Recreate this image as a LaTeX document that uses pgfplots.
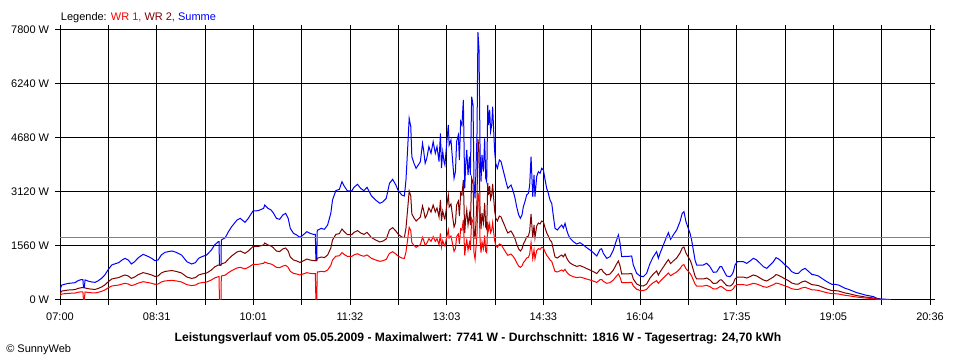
\documentclass[border=0pt]{standalone}
\usepackage{pgfplots}
\usepackage{pgfplotstable}
\pgfplotsset{compat=1.18}
\usepackage{fontspec}
\setmainfont{Liberation Sans}
\definecolor{wrred}{HTML}{FF0000}
\definecolor{wrdark}{HTML}{800000}
\definecolor{wrblue}{HTML}{0000FF}
\definecolor{avggray}{HTML}{808080}

% t = minutes after 07:00, sum = Summe, wra = WR 1, wrb = WR 2
\pgfplotstableread{
t sum wra wrb
0 300 120 180
1.6 430 172 258
5 460 184 276
8 480 192 288
14 500 200 300
17 560 224 336
20 590 236 354
21.5 590 236 354
22 354 0 354
22.8 354 0 354
23.5 580 232 348
27 540 216 324
30 520 208 312
33 510 204 306
36 560 224 336
39 626 250 376
42 722 289 433
45 867 347 520
48.5 1011 404 607
52 1050 420 630
55 1079 432 647
58 1150 460 690
61 1204 482 722
64 1156 462 694
67 1040 416 624
70 1107 443 664
73.5 1223 489 734
78 1319 528 791
83 1252 501 751
86 1204 482 722
89 1136 454 682
92 1156 462 694
95 1300 520 780
98.5 1377 551 826
102 1400 560 840
105 1416 566 850
109 1377 551 826
114 1300 520 780
119 1107 443 664
123.5 1040 416 624
127 1079 432 647
130 1204 482 722
133 1252 501 751
137.6 1300 520 780
142 1445 578 867
145 1589 636 953
148.5 1685 674 1011
149.2 1685 674 1011
149.5 1011 0 1011
151 1011 0 1011
151.3 1733 693 1040
155 1800 720 1080
158 1974 790 1184
161 2118 847 1271
166 2311 924 1387
169 2359 944 1415
173.5 2244 898 1346
176.6 2359 944 1415
181 2571 1028 1543
186 2581 1032 1549
191 2648 1059 1589
192 2745 1098 1647
195 2648 1059 1589
198 2600 1040 1560
200 2520 1008 1512
203 2359 944 1415
206 2331 932 1399
209 2456 982 1474
211.6 2504 1002 1502
214 2359 944 1415
216 2070 828 1242
219 1926 770 1156
222 1878 751 1127
225 1810 724 1086
228 1878 751 1127
231.5 1974 790 1184
234.5 1926 770 1156
237.5 1897 759 1138
239.5 1897 759 1138
240 1138 0 1138
240.8 1138 0 1138
241.3 2022 809 1213
242 2022 809 1213
245 2070 828 1242
248 2041 816 1225
251 2167 867 1300
254 2504 1002 1502
255.6 2889 1156 1733
258.7 3159 1264 1895
262 3197 1279 1918
264.5 3419 1368 2051
266.5 3293 1317 1976
269.6 3149 1260 1889
273.6 3149 1260 1889
275.7 3255 1302 1953
279 3342 1337 2005
282 3226 1290 1936
285 3159 1264 1895
288 3255 1302 1953
292 3014 1206 1808
296 2889 1156 1733
300 2793 1117 1676
303 2841 1136 1705
306 2937 1175 1762
309 3370 1348 2022
312 3486 1394 2092
315 3322 1329 1993
317 3178 1271 1907
320.5 3033 1213 1820
323 3005 1202 1803
324.5 3467 1387 2080
326 4334 1734 2600
327.5 5248 2099 3149
329 5007 2003 3004
330 4141 1656 2485
332 3948 1579 2369
334 3804 1522 2282
336 3900 1560 2340
338 3996 1598 2398
340 4526 1810 2716
341 4334 1734 2600
342.5 3948 1579 2369
344 4093 1637 2456
346 4430 1772 2658
348 4237 1695 2542
350 4574 1830 2744
352 4237 1695 2542
353.6 4430 1772 2658
355.5 3996 1598 2398
356.8 4815 1926 2889
357.8 3813 1525 2288
359 4285 1714 2571
360.2 3996 1598 2398
361 3900 1560 2340
362.7 4527 1811 2716
364.2 5056 2022 3034
365 4478 1791 2687
366.7 4622 1849 2773
368.3 3996 1598 2398
369.6 3515 1406 2109
370.9 3707 1483 2224
372 4575 1830 2745
373.6 4767 1907 2860
374.6 4044 1618 2426
375.8 5152 2061 3091
377 5056 2022 3034
378.3 5778 2311 3467
379.6 3227 1291 1936
380.5 3900 1560 2340
381.5 4334 1734 2600
382.7 3611 1444 2167
384 4141 1656 2485
384.9 3611 1444 2167
386.1 5874 2350 3524
387.4 5633 2253 3380
388.3 3419 1368 2051
389.3 2938 1175 1763
390.2 3804 1522 2282
391.1 4767 1907 2860
392 7741 3096 4645
393 7223 2889 4334
394 4285 1714 2571
394.9 3419 1368 2051
395.8 4189 1676 2513
397.1 3707 1483 2224
398.3 4671 1868 2803
399.3 3515 1406 2109
400.2 3419 1368 2051
401.2 5633 2253 3380
402 5056 2022 3034
403 5490 2196 3294
403.9 4863 1945 2918
404.9 5056 2022 3034
405.8 5585 2234 3351
406.8 4863 1945 2918
407.7 4285 1714 2571
408.7 3948 1579 2369
410.2 3804 1522 2282
412.1 4044 1618 2426
413.7 3996 1598 2398
415.2 3804 1522 2282
416.8 3611 1444 2167
418.3 3419 1368 2051
420 3227 1291 1936
421.5 3275 1310 1965
423 3322 1329 1993
425.2 3130 1252 1878
426.8 2938 1175 1763
428.3 2696 1078 1618
430.2 2456 982 1474
431.8 2359 944 1415
433.3 2456 982 1474
434.6 2696 1078 1618
436.1 2841 1136 1705
437.7 3033 1213 1820
439.3 3080 1232 1848
440.5 3300 1320 1980
441.8 4141 1656 2485
443.4 2985 1194 1791
444.6 3611 1444 2167
445.5 2985 1194 1791
447.1 3563 1425 2138
448.7 3708 1483 2225
450.3 3660 1464 2196
451.8 3804 1522 2282
453.4 3756 1502 2254
455 3467 1387 2080
456.5 3226 1290 1936
458 3082 1233 1849
459.6 2889 1156 1733
461.2 2793 1117 1676
462.8 2407 963 1444
464.3 2070 828 1242
466.5 2022 809 1213
469 2118 847 1271
470.6 2167 867 1300
472.1 2080 832 1248
473.7 2215 886 1329
475.2 2022 809 1213
476.8 1878 751 1127
478.4 1782 713 1069
481.5 1685 674 1011
484.6 1618 647 971
487.7 1656 662 994
490.9 1589 636 953
494 1512 605 907
497.1 1445 578 867
500.2 1368 547 821
503.4 1271 508 763
506.5 1464 586 878
508 1480 592 888
509.6 1348 539 809
512.8 1204 482 722
515.9 1252 501 751
519 1445 578 867
521.5 1685 674 1011
523.7 1878 751 1127
525.3 1637 655 982
526.8 1252 501 751
529.9 1260 504 756
533 1260 504 756
536.2 1271 508 763
537.7 1011 404 607
540.9 770 308 462
544 693 277 416
547.1 674 270 404
550.2 770 308 462
553.4 1059 424 635
556.5 1252 501 751
559.6 1396 558 838
561.2 1204 482 722
562.8 1348 539 809
565.9 1589 636 953
569 1830 732 1098
570.6 1945 778 1167
572.7 1753 701 1052
575.2 1878 751 1127
578.4 2022 809 1213
581.5 2263 905 1358
583.6 2504 1002 1502
585.2 2552 1021 1531
587.1 2263 905 1358
589.3 2070 828 1242
590.9 1926 770 1156
592.4 1733 693 1040
594 1445 578 867
595.6 1156 462 694
597.1 1011 404 607
600.3 1011 404 607
603.4 1011 404 607
606.5 1059 424 635
609.6 963 385 578
612.8 799 320 479
615.9 810 324 486
619 963 385 578
620.6 963 385 578
622.2 867 347 520
625.3 693 277 416
628.4 674 270 404
630 720 288 432
631.6 818 327 491
633.1 1011 404 607
635.3 1107 443 664
637.8 1107 443 664
640.9 1107 443 664
644.1 1059 424 635
647.2 1127 451 676
650.3 1204 482 722
653.4 1156 462 694
656.6 1059 424 635
659.7 963 385 578
662.9 915 366 549
666 1011 404 607
669.1 1107 443 664
671.6 1223 489 734
673.8 1190 476 714
677 1107 443 664
680.1 1011 404 607
683.2 934 374 560
686.3 818 327 491
689.5 770 308 462
692.6 770 308 462
695.7 867 347 520
698.8 915 366 549
702 828 331 497
705.1 741 296 445
708.2 722 289 433
711.4 693 277 416
714.5 626 250 376
719.2 530 212 318
723.9 453 181 272
727 453 181 272
730.1 433 173 260
733.3 385 154 231
736.4 337 135 202
739.5 308 123 185
742.6 270 108 162
747.3 212 85 127
752 173 69 104
755.2 144 58 86
759.9 116 46 70
763 96 38 58
766.1 48 19 29
770.8 29 12 17
775.5 19 8 11
779 10 4 6
}\powerdata

\begin{document}
\begin{tikzpicture}
\path[use as bounding box] (0,0) rectangle (720pt,270pt);
\begin{axis}[
  at={(45pt,45pt)}, anchor=south west,
  scale only axis, width=652.5pt, height=202.5pt,
  xmin=0, xmax=816, ymin=0, ymax=7800,
  xtick={0,45.333,90.667,136,181.333,226.667,272,317.333,362.667,408,453.333,498.667,544,589.333,634.667,680,725.333,770.667,816},
  xticklabels={07:00,,08:31,,10:01,,11:32,,13:03,,14:33,,16:04,,17:35,,19:05,,20:36},
  ytick={0,1560,3120,4680,6240,7800},
  yticklabels={0 W,1560 W,3120 W,4680 W,6240 W,7800 W},
  grid=major,
  major grid style={black, line width=0.75pt},
  axis line style={black, line width=0.75pt},
  tick style={black, line width=0.75pt},
  tick align=outside, major tick length=3.75pt,
  ticklabel style={font=\fontsize{8.25}{10}\selectfont},
  xticklabel style={anchor=north, inner sep=0pt, yshift=-5.75pt},
  yticklabel style={anchor=east, inner sep=0pt, xshift=-4.25pt},
  clip=true,
]
\addplot[wrblue, line width=0.75pt] table[x=t, y=sum] {\powerdata};
\addplot[wrdark, line width=0.75pt] table[x=t, y=wrb] {\powerdata};
\addplot[wrred, line width=0.75pt] table[x=t, y=wra] {\powerdata};
\addplot[avggray, line width=0.75pt] coordinates {(0,1816) (816,1816)};
\end{axis}
\node[anchor=base west, inner sep=0pt, font=\fontsize{8.25}{10}\selectfont] at (45.5pt,254.5pt)
  {Legende: \textcolor{wrred}{WR 1,} \textcolor{wrdark}{WR 2,} \textcolor{wrblue}{Summe}};
\node[anchor=base, inner sep=0pt, font=\fontsize{9.1}{11}\selectfont\bfseries] at (358.5pt,13.7pt)
  {Leistungsverlauf vom 05.05.2009 - Maximalwert: 7741 W - Durchschnitt: 1816 W - Tagesertrag: 24,70 kWh};
\node[anchor=base west, inner sep=0pt, font=\fontsize{8.25}{10}\selectfont] at (4.5pt,5.8pt)
  {\textcopyright{} SunnyWeb};
\end{tikzpicture}
\end{document}
